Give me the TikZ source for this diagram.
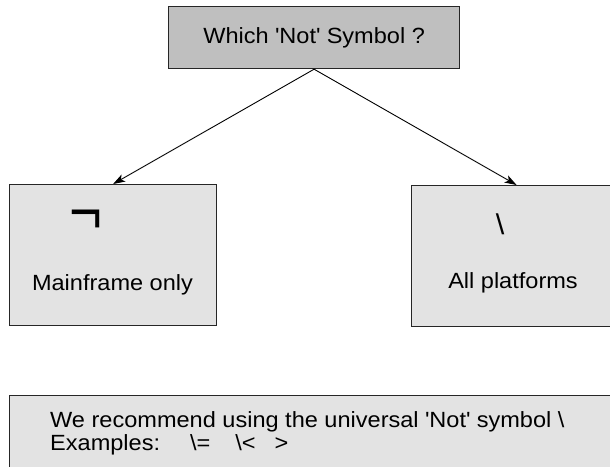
\documentclass[tikz,border=0pt]{standalone}
\usepackage{fontspec}
\setmainfont[FakeStretch=1.07]{Liberation Sans}
\usetikzlibrary{arrows.meta}

\begin{document}
\begin{tikzpicture}[x=1pt,y=-1pt,
            box/.style={draw=black!85, line width=1.2pt, inner sep=0pt, anchor=north west,
                        font=\fontsize{22}{26}\selectfont},
            lbl/.style={font=\fontsize{22}{26}\selectfont, inner sep=0pt},
            conn/.style={-{Stealth[length=12pt,width=8pt,inset=3pt]}, line width=0.9pt}]
        \useasboundingbox (0,0) rectangle (610,466);
        \clip (0,0) rectangle (610,466);

        \node[box, fill=black!25, minimum width=291pt, minimum height=62pt] (which) at (168,6)
            {Which \textquotesingle Not\textquotesingle{} Symbol ?};
        \node[box, fill=black!11, minimum width=207pt, minimum height=141pt] (mainframe) at (9,184) {};
        \node[box, fill=black!11, minimum width=210pt, minimum height=141pt] (allplat) at (411,185) {};
        \node[box, fill=black!11, minimum width=612pt, minimum height=90pt] (advice) at (9,395) {};

        % box contents
        \node[lbl] (notsign) at (86,222) {\scalebox{2.4}[2.9]{¬}};
        \node[lbl] (mainlbl) at (112.5,285) {Mainframe only};
        \node[lbl] (bslash) at (500,224) {\scalebox{1.3}{\textbackslash}};
        \node[lbl] (alllbl) at (513,283) {All platforms};

        \node[lbl, anchor=base west] (advline) at (50,427)
            {We recommend using the universal \textquotesingle Not\textquotesingle{} symbol \textbackslash};
        \node[lbl, anchor=base west] (exline) at (50,450)
            {Examples:\hspace{30pt}\textbackslash=\hspace{25pt}\textbackslash<\hspace{19pt}>};

        \draw[conn] (which.south) -- (mainframe.north);
        \draw[conn] (which.south) -- (allplat.north);
    \end{tikzpicture}
\end{document}
